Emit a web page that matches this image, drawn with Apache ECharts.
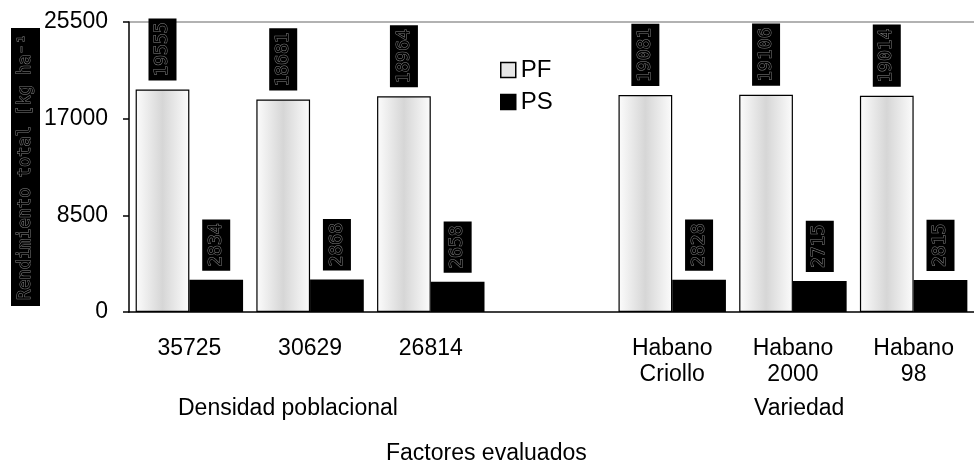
<!DOCTYPE html>
<html>
<head>
<meta charset="utf-8">
<script src="https://cdn.jsdelivr.net/npm/echarts@6/dist/echarts.min.js"></script>
<style>html,body{margin:0;padding:0;background:#fff}#c{width:974px;height:466px}</style>
</head>
<body>
<div id="c"></div>
<script>
const categories = ['35725', '30629', '26814', '', 'Habano\nCriollo', 'Habano\n2000', 'Habano\n98'];
const pfValues = [19555, 18681, 18964, '-', 19081, 19106, 19014];
const psValues = [2834, 2868, 2658, '-', 2828, 2715, 2815];
const yTicks = [0, 8500, 17000, 25500];
const seriesNames = ['PF', 'PS'];
const groupLabels = ['Densidad poblacional', 'Variedad'];
const axisTitleX = 'Factores evaluados';
const axisTitleY = 'Rendimiento total [kg ha⁻¹';

const chart = echarts.init(document.getElementById('c'), null, {renderer: 'canvas'});
const sans = 'Liberation Sans, Arial, sans-serif';
const mono = 'DejaVu Sans Mono, monospace';
const labelStyle = {
  show: true,
  position: 'top',
  distance: 9,
  rotate: 90,
  align: 'left',
  verticalAlign: 'middle',
  fontFamily: mono,
  fontSize: 18,
  lineHeight: 20,
  color: '#000',
  textBorderColor: '#808080',
  textBorderWidth: 1,
  backgroundColor: '#000',
  padding: [4, 4]
};
const pfGradient = new echarts.graphic.LinearGradient(0, 0, 1, 0, [
  {offset: 0, color: '#fcfcfc'},
  {offset: 0.5, color: '#d6d6d6'},
  {offset: 1, color: '#fcfcfc'}
]);

chart.setOption({
  animation: false,
  backgroundColor: '#fff',
  grid: {left: 129, right: 0, top: 22, bottom: 154, containLabel: false, outerBoundsMode: 'none'},
  legend: {
    orient: 'vertical',
    left: 495,
    top: 53,
    icon: 'rect',
    itemWidth: 15,
    itemHeight: 15,
    itemGap: 8,
    textStyle: {fontFamily: sans, fontSize: 24, color: '#000'},
    data: [
      {name: seriesNames[0], itemStyle: {color: '#e6e6e6', borderColor: '#000', borderWidth: 1.5}},
      {name: seriesNames[1], itemStyle: {color: '#000', borderColor: '#000', borderWidth: 1.5}}
    ]
  },
  xAxis: {
    type: 'category',
    data: categories,
    axisLine: {lineStyle: {color: '#000', width: 1.5}},
    axisTick: {length: 5, lineStyle: {color: '#000', width: 1.5}},
    axisLabel: {fontFamily: sans, fontSize: 23, lineHeight: 26, color: '#000', margin: 24, interval: 0}
  },
  yAxis: {
    type: 'value',
    min: yTicks[0],
    max: yTicks[yTicks.length - 1],
    interval: yTicks[1] - yTicks[0],
    axisLine: {show: true, lineStyle: {color: '#000', width: 1.5}},
    axisTick: {show: true, length: 6, lineStyle: {color: '#000', width: 1.5}},
    axisLabel: {fontFamily: sans, fontSize: 23, color: '#000', margin: 21, formatter: v => String(v)},
    splitLine: {show: true, lineStyle: {color: ['transparent', 'transparent', 'transparent', '#999'], width: 1.5}},
    name: axisTitleY,
    nameLocation: 'middle',
    nameRotate: 90,
    nameGap: 89,
    nameMoveOverlap: false,
    nameTextStyle: {
      fontFamily: mono, fontSize: 17, lineHeight: 21, color: '#000',
      textBorderColor: '#808080', textBorderWidth: 1,
      backgroundColor: '#000', padding: [4, 6]
    }
  },
  series: [
    {
      name: seriesNames[0], type: 'bar', data: pfValues,
      barGap: '0%', barCategoryGap: '11%',
      itemStyle: {color: pfGradient, borderColor: '#000', borderWidth: 1.2},
      label: labelStyle
    },
    {
      name: seriesNames[1], type: 'bar', data: psValues,
      itemStyle: {color: '#000'},
      label: labelStyle
    }
  ],
  graphic: [
    {type: 'text', left: 178, top: 397, style: {text: groupLabels[0], font: '23px ' + sans, fill: '#000'}},
    {type: 'text', left: 754, top: 397, style: {text: groupLabels[1], font: '23px ' + sans, fill: '#000'}},
    {type: 'text', left: 386, top: 442, style: {text: axisTitleX, font: '23px ' + sans, fill: '#000'}}
  ]
});
</script>
</body>
</html>
